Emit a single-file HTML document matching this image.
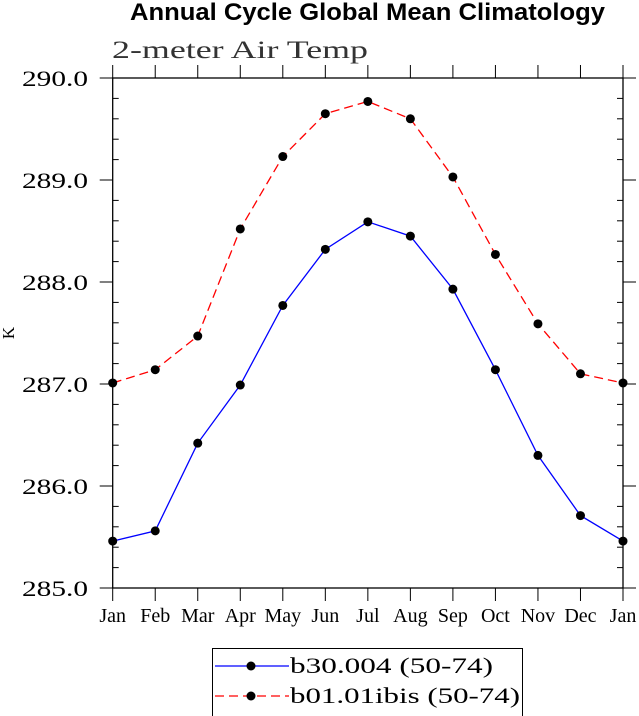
<!DOCTYPE html>
<html><head><meta charset="utf-8"><style>
body{margin:0;background:#fff;}
svg{display:block;}
text{font-family:"Liberation Serif",serif;fill:#000;}
</style></head><body>
<svg id="chart" width="639" height="716" viewBox="0 0 639 716" xmlns="http://www.w3.org/2000/svg">
<text x="130" y="20" textLength="475" lengthAdjust="spacingAndGlyphs" style="font-family:'Liberation Sans',sans-serif;font-weight:bold;font-size:24px">Annual Cycle Global Mean Climatology</text>
<text x="112" y="58" textLength="256" lengthAdjust="spacingAndGlyphs" style="font-size:25px;fill:#333">2-meter Air Temp</text>
<text x="0" y="0" transform="translate(14,333) rotate(-90)" text-anchor="middle" style="font-size:17px">K</text>
<g id="axes"></g>
<g id="series"></g>
<g>
<rect x="212.5" y="648.5" width="310" height="68" fill="none" stroke="#000" stroke-width="1"/>
<g>
<line x1="215" y1="666" x2="289" y2="666" stroke="#0000ff" stroke-width="1.3"/>
<circle cx="251" cy="666" r="4.5" fill="#000"/>
<text x="290" y="673" textLength="203" lengthAdjust="spacingAndGlyphs" style="font-size:22px">b30.004 (50-74)</text>
</g>
<g>
<line x1="215" y1="696" x2="289" y2="696" stroke="#ff0000" stroke-width="1.3" stroke-dasharray="9,5"/>
<circle cx="251" cy="696" r="4.5" fill="#000"/>
<text x="290" y="703" textLength="230" lengthAdjust="spacingAndGlyphs" style="font-size:22px">b01.01ibis (50-74)</text>
</g>
</g>
</svg>
<script>
const months=["Jan","Feb","Mar","Apr","May","Jun","Jul","Aug","Sep","Oct","Nov","Dec","Jan"];
const yTicks=[285,286,287,288,289,290];
const yTickLabels=["285.0","286.0","287.0","288.0","289.0","290.0"];
const blueValues=[285.46,285.56,286.42,286.99,287.77,288.32,288.59,288.45,287.93,287.14,286.30,285.71,285.46];
const redValues=[287.01,287.14,287.47,288.52,289.23,289.65,289.77,289.60,289.03,288.27,287.59,287.10,287.01];
const L=112.7,R=623,T=78,B=588,yMin=285,yMax=290;
const xS=i=>L+(R-L)*i/(months.length-1);
const yS=v=>B-(v-yMin)/(yMax-yMin)*(B-T);
const NS="http://www.w3.org/2000/svg";
function mk(tag,attrs,parent){const e=document.createElementNS(NS,tag);for(const k in attrs)e.setAttribute(k,attrs[k]);parent.appendChild(e);return e;}
const ax=document.getElementById('axes');
const frame=mk('rect',{x:L,y:T,width:R-L,height:B-T,fill:'none',stroke:'#000','stroke-width':1.3},ax);


months.forEach((m,i)=>{const x=xS(i);
mk('line',{x1:x,y1:B,x2:x,y2:B+13,stroke:'#000','stroke-width':1},ax);
mk('line',{x1:x,y1:T,x2:x,y2:T-13,stroke:'#000','stroke-width':1},ax);
const t=mk('text',{x:x,y:B+34,'text-anchor':'middle','font-size':'20'},ax);t.textContent=m;


});
yTicks.forEach((v,i)=>{const y=yS(v);
mk('line',{x1:L,y1:y,x2:L-13,y2:y,stroke:'#000','stroke-width':1},ax);
mk('line',{x1:R,y1:y,x2:R+13,y2:y,stroke:'#000','stroke-width':1},ax);
const t=mk('text',{x:22,y:y+8,textLength:66,lengthAdjust:'spacingAndGlyphs','font-size':'22'},ax);t.textContent=yTickLabels[i];


if(i<yTicks.length-1){for(let k=1;k<5;k++){const yy=yS(v+k*0.2);
mk('line',{x1:L,y1:yy,x2:L+6,y2:yy,stroke:'#000','stroke-width':1},ax);
mk('line',{x1:R,y1:yy,x2:R-6,y2:yy,stroke:'#000','stroke-width':1},ax);}}
});
const sg=document.getElementById('series');
function series(vals,color,dash,name){
const p=mk('polyline',{points:vals.map((v,i)=>xS(i)+','+yS(v)).join(' '),fill:'none',stroke:color,'stroke-width':1.3},sg);
if(dash)p.setAttribute('stroke-dasharray',dash);


vals.forEach((v,i)=>{const c=mk('circle',{cx:xS(i),cy:yS(v),r:4.5,fill:'#000'},sg);

});
}
series(redValues,'#ff0000','9,5','b01-01ibis');
series(blueValues,'#0000ff',null,'b30-004');
</script>
</body></html>
